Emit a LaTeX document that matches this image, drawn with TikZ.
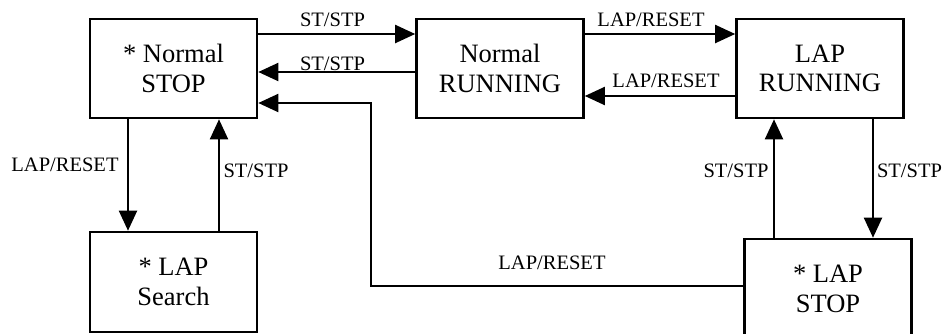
\documentclass[tikz,border=0pt]{standalone}
\usepackage{fontspec}
\setmainfont{Liberation Serif}
\usetikzlibrary{arrows.meta}
\begin{document}
\begin{tikzpicture}[x=1pt,y=-1pt,
  statebox/.style={draw,line width=2.6pt,inner sep=0pt,minimum width=167pt,minimum height=99pt,align=center,font=\fontsize{26.5}{29.5}\selectfont},
  lbl/.style={inner sep=0pt,anchor=base,font=\fontsize{20.5}{22}\selectfont},
  arr/.style={line width=2pt,-{Triangle[length=20pt,width=18pt]}}]
\useasboundingbox (0,0) rectangle (945,333);
\node[statebox] (b1) at (173.5,68.5) {* Normal\\STOP};
\node[statebox] (b2) at (500,68.5) {Normal\\RUNNING};
\node[statebox] (b3) at (820,68.5) {LAP\\RUNNING};
\node[statebox,minimum height=100pt] (b4) at (173.5,282) {* LAP\\Search};
\node[statebox,minimum height=100pt] (b5) at (828,289) {* LAP\\STOP};
% top row
\draw[arr] (b1.east |- 0,34) -- (b2.west |- 0,34);
\draw[arr] (b2.west |- 0,72) -- (b1.east |- 0,72);
\draw[arr] (b2.east |- 0,34) -- (b3.west |- 0,34);
\draw[arr] (b3.west |- 0,96) -- (b2.east |- 0,96);
% long return
\coordinate (c1) at (371,286);
\draw[arr] (b5.west |- c1) -- (c1) |- (b1.east |- 0,103);
% left verticals
\draw[arr] (b1.south -| 128,0) -- (b4.north -| 128,0);
\draw[arr] (b4.north -| 219,0) -- (b1.south -| 219,0);
% right verticals
\draw[arr] (b5.north -| 774,0) -- (b3.south -| 774,0);
\draw[arr] (b3.south -| 873,0) -- (b5.north -| 873,0);
% labels
\node[lbl] (l1) at (332.5,26.7) {ST/STP};
\node[lbl] (l2) at (332.5,70.7) {ST/STP};
\node[lbl] (l3) at (651,26) {LAP/RESET};
\node[lbl] (l4) at (666,87.3) {LAP/RESET};
\node[lbl] (l5) at (552,269) {LAP/RESET};
\node[lbl] (l6) at (65,171.5) {LAP/RESET};
\node[lbl] (l7) at (256,177.5) {ST/STP};
\node[lbl] (l8) at (736,177.5) {ST/STP};
\node[lbl] (l9) at (909.5,177.5) {ST/STP};
\end{tikzpicture}
\end{document}
